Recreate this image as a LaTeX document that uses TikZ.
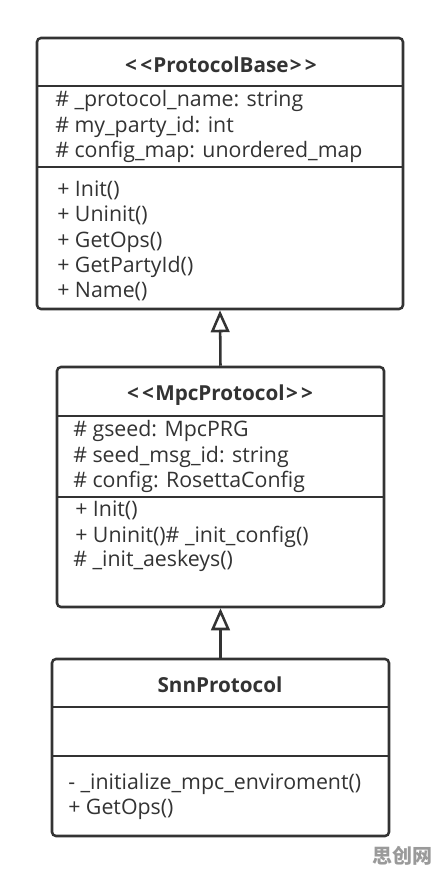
\documentclass[tikz,border=0pt]{standalone}
\usepackage{fontspec}
\setmainfont[Ligatures=NoCommon]{Open Sans}
\newfontfamily\cjk{Noto Sans CJK SC}
\usetikzlibrary{arrows.meta}
\definecolor{ink}{HTML}{333333}
\definecolor{wm}{HTML}{9A9A9A}
\tikzset{
  umlbox/.style={draw=ink, line width=1.9pt, rounded corners=3pt, inner sep=0pt, fill=white},
  divider/.style={draw=ink, line width=1.9pt},
  ttl/.style={font=\fontsize{15.5}{18}\selectfont\bfseries, text=ink, inner sep=0pt},
  mem/.style={font=\fontsize{16}{18}\selectfont, text=ink, inner sep=0pt, anchor=mid west, yshift=-1pt},
  inherit/.style={draw=ink, line width=1.9pt, -{Triangle[open, length=16.5pt, width=14pt, line width=1.9pt]}},
}
\begin{document}
\begin{tikzpicture}[x=0.75pt,y=-0.75pt]
\useasboundingbox (0,0) rectangle (440,876);
% Box 1
\node[umlbox, minimum width=274.5pt, minimum height=203.25pt] (b1) at (220,173.5) {};
\draw[divider] (37,86) -- (403,86);
\draw[divider] (37,167) -- (403,167);
\node[ttl] (t1) at (221,65) {{<}\kern2.5pt{<}\kern1pt ProtocolBase\kern1pt{>}\kern2.5pt{>}};
\node[mem] (a11) at (55,102) {\# \_protocol\_name: string};
\node[mem] (a12) at (55,128) {\# my\_party\_id: int};
\node[mem] (a13) at (55,153) {\# config\_map: unordered\_map};
\node[mem] (m11) at (57,192) {+ Init()};
\node[mem] (m12) at (57,217) {+ Uninit()};
\node[mem] (m13) at (57,243) {+ GetOps()};
\node[mem] (m14) at (57,268) {+ GetPartyId()};
\node[mem] (m15) at (57,293) {+ Name()};
% Box 2
\node[umlbox, minimum width=245.25pt, minimum height=180pt] (b2) at (220.5,487) {};
\draw[divider] (57,416) -- (384,416);
\draw[divider] (57,497) -- (384,497);
\node[ttl] (t2) at (220,395) {{<}\kern2.5pt{<}\kern1pt MpcProtocol\kern1pt{>}\kern2.5pt{>}};
\node[mem] (a21) at (73,432) {\# gseed: MpcPRG};
\node[mem] (a22) at (73,458) {\# seed\_msg\_id: string};
\node[mem] (a23) at (73,483) {\# config: RosettaConfig};
\node[mem] (m21) at (75,512) {+ Init()};
\node[mem] (m22) at (75,538) {+ Uninit()\# \_init\_config()};
\node[mem] (m23) at (73,562) {\# \_init\_aeskeys()};
% Box 3
\node[umlbox, minimum width=252.75pt, minimum height=132.75pt] (b3) at (220.5,747.5) {};
\draw[divider] (52,707) -- (389,707);
\draw[divider] (52,756) -- (389,756);
\node[ttl] (t3) at (220,685) {SnnProtocol};
\node[mem] (m31) at (68,785) {- \_initialize\_mpc\_enviroment()};
\node[mem] (m32) at (68,810) {+ GetOps()};
% Inheritance
\draw[inherit] (b2.north) -- (b1.south);
\draw[inherit] (b3.north) -- (b2.south);
% Watermark
\node[font=\cjk\bfseries\fontsize{15}{17}\selectfont, text=wm, inner sep=0pt] (wmk) at (402,856) {思创网};
\end{tikzpicture}
\end{document}
